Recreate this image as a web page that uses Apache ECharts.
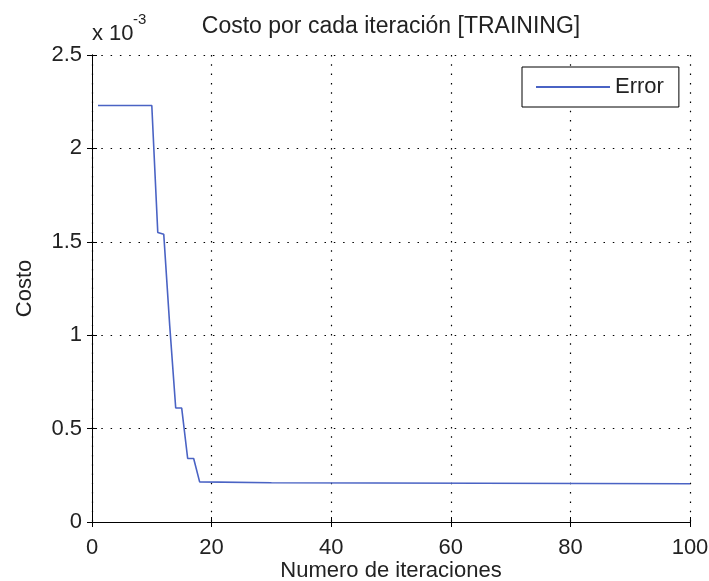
<!DOCTYPE html>
<html>
<head>
<meta charset="utf-8">
<script src="https://cdn.jsdelivr.net/npm/echarts@6/dist/echarts.min.js"></script>
<style>
html,body{margin:0;padding:0;background:#fff;}
#chart{width:709px;height:581px;}
</style>
</head>
<body>
<div id="chart"></div>
<script>
// Data (cost values in units of 1e-3)
var iterations = [1, 10, 11, 12, 13, 14, 15, 16, 17, 18, 30, 100];
var costs = [2.23, 2.23, 1.55, 1.54, 1.05, 0.61, 0.61, 0.34, 0.34, 0.215, 0.21, 0.205];
var xTicks = [0, 20, 40, 60, 80, 100];
var yTicks = [0, 0.5, 1, 1.5, 2, 2.5];
var seriesName = 'Error';
var titleText = 'Costo por cada iteración [TRAINING]';
var xName = 'Numero de iteraciones';
var yName = 'Costo';

var FONT = 'Liberation Sans';
var TXT = '#222';
var FS = 22;
var points = iterations.map(function (x, i) { return [x, costs[i]]; });

var chart = echarts.init(document.getElementById('chart'), null, {renderer: 'canvas'});
var gridLine = {show: true, lineStyle: {color: '#000', type: [1.5, 7.8], width: 1.2}};
var tick = {show: true, inside: true, length: 5, lineStyle: {color: '#000', width: 1}};
var axLine = {show: true, lineStyle: {color: '#000', width: 1}};

chart.setOption({
  backgroundColor: '#fff',
  animation: false,
  grid: {left: 92, right: 19, top: 55, bottom: 59, containLabel: false, outerBoundsMode: 'none'},
  xAxis: [{
    type: 'value', min: xTicks[0], max: xTicks[xTicks.length - 1], interval: xTicks[1] - xTicks[0],
    position: 'bottom',
    name: xName, nameLocation: 'middle', nameGap: 38, nameMoveOverlap: false,
    nameTextStyle: {fontFamily: FONT, fontSize: FS, color: TXT},
    axisLine: axLine, axisTick: tick, splitLine: gridLine,
    axisLabel: {fontFamily: FONT, fontSize: FS, color: TXT, margin: 15}
  }, {
    type: 'value', min: xTicks[0], max: xTicks[xTicks.length - 1], interval: xTicks[1] - xTicks[0],
    position: 'top',
    axisLine: axLine, axisTick: tick, splitLine: {show: false}, axisLabel: {show: false}
  }],
  yAxis: [{
    type: 'value', min: yTicks[0], max: yTicks[yTicks.length - 1], interval: yTicks[1] - yTicks[0],
    position: 'left',
    name: yName, nameLocation: 'middle', nameGap: 56, nameRotate: 90, nameMoveOverlap: false,
    nameTextStyle: {fontFamily: FONT, fontSize: FS, color: TXT},
    axisLine: axLine, axisTick: tick, splitLine: gridLine,
    axisLabel: {fontFamily: FONT, fontSize: FS, color: TXT, margin: 10}
  }, {
    type: 'value', min: yTicks[0], max: yTicks[yTicks.length - 1], interval: yTicks[1] - yTicks[0],
    position: 'right',
    axisLine: axLine, axisTick: tick, splitLine: {show: false}, axisLabel: {show: false}
  }],
  legend: {
    left: 522, top: 67,
    padding: [9, 15, 9, 14],
    itemWidth: 74, itemHeight: 2,
    icon: 'rect',
    backgroundColor: '#fff', borderColor: '#000', borderWidth: 1, borderRadius: 0,
    textStyle: {fontFamily: FONT, fontSize: FS, color: TXT, lineHeight: 21},
    data: [seriesName]
  },
  graphic: [
    {type: 'text', x: 391, y: 27, silent: true,
     style: {text: titleText, fontFamily: FONT, fontSize: 23, fill: TXT, textAlign: 'center', textVerticalAlign: 'middle'}},
    {type: 'text', x: 92, y: 34, silent: true,
     style: {text: 'x 10', fontFamily: FONT, fontSize: FS, fill: TXT, textAlign: 'left', textVerticalAlign: 'middle'}},
    {type: 'text', x: 133, y: 20, silent: true,
     style: {text: '-3', fontFamily: FONT, fontSize: 15, fill: TXT, textAlign: 'left', textVerticalAlign: 'middle'}}
  ],
  series: [{
    name: seriesName, type: 'line', xAxisIndex: 0, yAxisIndex: 0,
    data: points, symbol: 'none', showSymbol: false,
    lineStyle: {color: '#4a63c4', width: 1.6},
    itemStyle: {color: '#4a63c4'}
  }]
});
</script>
</body>
</html>
